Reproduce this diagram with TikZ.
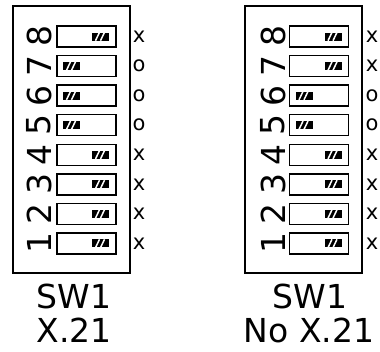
\documentclass[tikz,border=0pt]{standalone}
\usepackage{fontspec}
\setmainfont{DejaVu Sans}
\usetikzlibrary{positioning}

\begin{document}
\begin{tikzpicture}[x=1pt,y=1pt,
  frame/.style={draw,line width=1.3pt,inner sep=0pt,minimum width=117pt,minimum height=267pt},
  sw/.style={draw,line width=1.4pt,inner sep=0pt,minimum width=59pt,minimum height=21pt},
  knob/.style={fill=black,inner sep=0pt,minimum width=17pt,minimum height=8pt},
  stripe/.style={white,line width=1.5pt},
  num/.style={rotate=90,inner sep=0pt,font=\fontsize{33}{33}\selectfont},
  tag/.style={inner sep=0pt,font=\fontsize{21}{21}\selectfont},
  lbl/.style={inner sep=0pt,font=\fontsize{33}{33}\selectfont},node distance=11pt]
  \useasboundingbox (0,0) rectangle (380,352);
  \node[frame] (boxA) at (71.5,212.5) {};
  \node[frame] (boxB) at (303.5,212.5) {};
  \foreach \k/\s in {1/1,2/1,3/1,4/1,5/0,6/0,7/0,8/1}{
    \node[sw] (swA\k) at (86.5,{108.5+29.57*(\k-1)}) {};
    \node[num] (numA\k) at ([xshift=-47.5pt]swA\k.center) {\k};
    \node[knob] (kA\k) at ([xshift={(29*\s-15)*1pt}]swA\k.center) {};
    \draw[stripe] ([xshift=-5pt]kA\k.south)--([xshift=-1pt]kA\k.north);
    \draw[stripe] ([xshift=0pt]kA\k.south)--([xshift=4pt]kA\k.north);
    \node[tag,xshift=8.5pt] (tA\k) at (boxA.east |- swA\k) {\ifnum\s=1 x\else o\fi};
  }
  \foreach \k/\s in {1/1,2/1,3/1,4/1,5/0,6/0,7/1,8/1}{
    \node[sw] (swB\k) at (319,{108.5+29.57*(\k-1)}) {};
    \node[num] (numB\k) at ([xshift=-46pt]swB\k.center) {\k};
    \node[knob] (kB\k) at ([xshift={(29*\s-15)*1pt}]swB\k.center) {};
    \draw[stripe] ([xshift=-5pt]kB\k.south)--([xshift=-1pt]kB\k.north);
    \draw[stripe] ([xshift=0pt]kB\k.south)--([xshift=4pt]kB\k.north);
    \node[tag,xshift=9.5pt] (tB\k) at (boxB.east |- swB\k) {\ifnum\s=1 x\else o\fi};
  }
  \node[lbl,below=10pt of boxA,xshift=2.5pt] (swlA) {SW1};
  \node[lbl,below=9pt of swlA] (modeA) {X.21};
  \node[lbl,below=10pt of boxB,xshift=6.5pt] (swlB) {SW1};
  \node[lbl,below=9pt of swlB,xshift=-1pt] (modeB) {No X.21};
\end{tikzpicture}
\end{document}
